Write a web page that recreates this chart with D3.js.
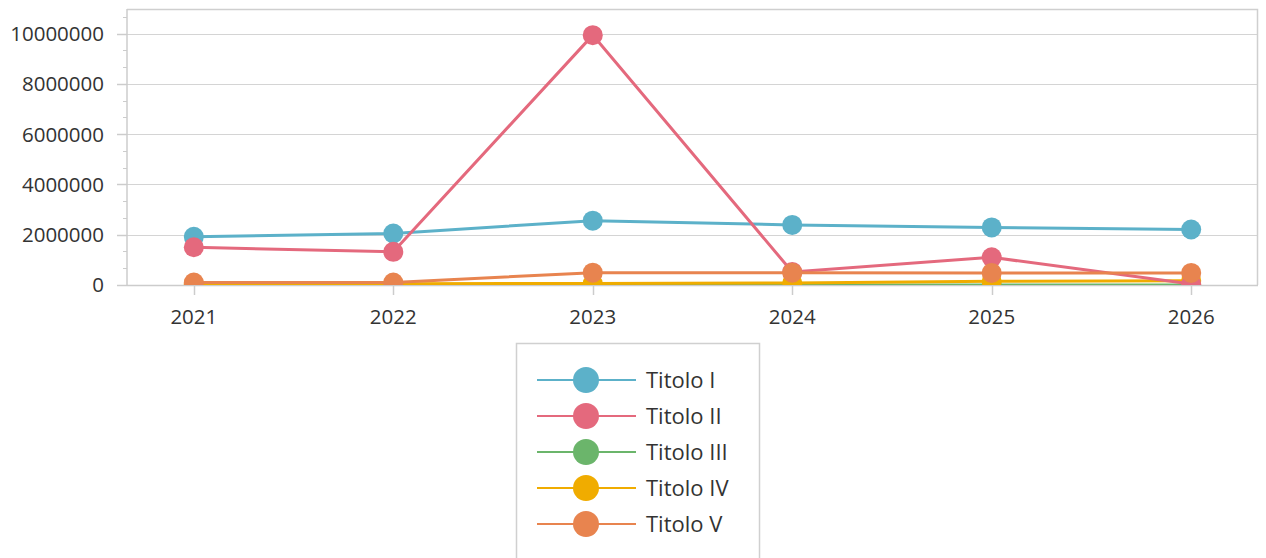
<!DOCTYPE html>
<html>
<head>
<meta charset="utf-8">
<script src="https://cdn.jsdelivr.net/npm/d3@7"></script>
<style>
  body { margin: 0; background: #fff; }
  svg { display: block; font-family: "Open Sans", "Noto Sans", sans-serif; }
  .tick-label { fill: #333; font-size: 20.5px; }
  .legend-label { fill: #333; font-size: 22px; }
</style>
</head>
<body>
<svg id="chart" width="1266" height="558"></svg>
<script>
const years = ["2021", "2022", "2023", "2024", "2025", "2026"];
const seriesNames = ["Titolo I", "Titolo II", "Titolo III", "Titolo IV", "Titolo V"];
const seriesColors = ["#5cb1c9", "#e4697d", "#6bb56b", "#f0ac00", "#e8844f"];
const titoloI = [1920000, 2050000, 2560000, 2390000, 2290000, 2210000];
const titoloII = [1500000, 1320000, 9940000, 520000, 1100000, 40000];
const titoloIII = [0, 0, 0, 0, 0, 0];
const titoloIV = [50000, 50000, 60000, 80000, 150000, 170000];
const titoloV = [100000, 100000, 490000, 490000, 480000, 480000];
const yTicks = [0, 2000000, 4000000, 6000000, 8000000, 10000000];

const seriesValues = [titoloI, titoloII, titoloIII, titoloIV, titoloV];

// plot area bounds
const PLOT_LEFT = 127;
const PLOT_RIGHT = 1258;
const PLOT_TOP = 9;
const PLOT_BOTTOM = 285;

const svg = d3.select("#chart");

const x = d3.scalePoint()
  .domain(years)
  .range([PLOT_LEFT, PLOT_RIGHT])
  .padding(0.335);

const y = d3.scaleLinear()
  .domain([0, 10980000])
  .range([PLOT_BOTTOM, PLOT_TOP]);

// gridlines
svg.append("g")
  .selectAll("line")
  .data(yTicks.filter(d => d > 0))
  .enter()
  .append("line")
  .attr("x1", PLOT_LEFT)
  .attr("x2", PLOT_RIGHT)
  .attr("y1", d => Math.round(y(d)) + 0.5)
  .attr("y2", d => Math.round(y(d)) + 0.5)
  .attr("stroke", "#d4d4d4")
  .attr("stroke-width", 1);

// plot border (top and right)
svg.append("path")
  .attr("d", `M${PLOT_LEFT},${PLOT_TOP + 0.5}H${PLOT_RIGHT - 0.5}V${PLOT_BOTTOM}`)
  .attr("fill", "none")
  .attr("stroke", "#cfcfcf")
  .attr("stroke-width", 1.5);

// y axis: minor ticks, major ticks, line
const minorTicks = d3.range(0, 10980000, 2000000 / 3);
svg.append("g")
  .selectAll("line")
  .data(minorTicks)
  .enter()
  .append("line")
  .attr("x1", PLOT_LEFT - 4)
  .attr("x2", PLOT_LEFT)
  .attr("y1", d => Math.round(y(d)) + 0.5)
  .attr("y2", d => Math.round(y(d)) + 0.5)
  .attr("stroke", "#cccccc");

svg.append("g")
  .selectAll("line")
  .data(yTicks)
  .enter()
  .append("line")
  .attr("x1", PLOT_LEFT - 10)
  .attr("x2", PLOT_LEFT)
  .attr("y1", d => Math.round(y(d)) + 0.5)
  .attr("y2", d => Math.round(y(d)) + 0.5)
  .attr("stroke", "#cccccc")
  .attr("stroke-width", 1.5);

svg.append("line")
  .attr("x1", PLOT_LEFT)
  .attr("x2", PLOT_LEFT)
  .attr("y1", PLOT_TOP)
  .attr("y2", PLOT_BOTTOM)
  .attr("stroke", "#cccccc")
  .attr("stroke-width", 1.5);

svg.append("g")
  .selectAll("text")
  .data(yTicks)
  .enter()
  .append("text")
  .attr("class", "tick-label")
  .attr("x", 104)
  .attr("y", d => y(d))
  .attr("dy", "0.36em")
  .attr("text-anchor", "end")
  .text(d => d);

// x axis
svg.append("line")
  .attr("x1", PLOT_LEFT)
  .attr("x2", PLOT_RIGHT)
  .attr("y1", PLOT_BOTTOM + 0.5)
  .attr("y2", PLOT_BOTTOM + 0.5)
  .attr("stroke", "#cccccc")
  .attr("stroke-width", 1.5);

svg.append("g")
  .selectAll("line")
  .data(years)
  .enter()
  .append("line")
  .attr("x1", d => Math.round(x(d)) + 0.5)
  .attr("x2", d => Math.round(x(d)) + 0.5)
  .attr("y1", PLOT_BOTTOM)
  .attr("y2", PLOT_BOTTOM + 10)
  .attr("stroke", "#cccccc")
  .attr("stroke-width", 1.5);

svg.append("g")
  .selectAll("text")
  .data(years)
  .enter()
  .append("text")
  .attr("class", "tick-label")
  .attr("x", d => x(d))
  .attr("y", 317)
  .attr("dy", "0.36em")
  .attr("text-anchor", "middle")
  .text(d => d);

// series, clipped to the plot area
svg.append("clipPath")
  .attr("id", "plot-clip")
  .append("rect")
  .attr("x", PLOT_LEFT)
  .attr("y", 0)
  .attr("width", PLOT_RIGHT - PLOT_LEFT)
  .attr("height", PLOT_BOTTOM);

const plot = svg.append("g").attr("clip-path", "url(#plot-clip)");

const line = d3.line()
  .x((d, i) => x(years[i]))
  .y(d => y(d));

// draw order so the reference layering shows: III, IV, I, II, V
const drawOrder = [2, 3, 0, 1, 4];
drawOrder.forEach(s => {
  const g = plot.append("g");
  g.append("path")
    .datum(seriesValues[s])
    .attr("d", line)
    .attr("fill", "none")
    .attr("stroke", seriesColors[s])
    .attr("stroke-width", 3);
  g.selectAll("circle")
    .data(seriesValues[s])
    .enter()
    .append("circle")
    .attr("cx", (d, i) => x(years[i]))
    .attr("cy", d => y(d))
    .attr("r", 10)
    .attr("fill", seriesColors[s]);
});

// legend
const legend = svg.append("g");
legend.append("rect")
  .attr("x", 516.5)
  .attr("y", 343.5)
  .attr("width", 243)
  .attr("height", 230)
  .attr("fill", "#fff")
  .attr("stroke", "#d0d0d0")
  .attr("stroke-width", 1.5);

const items = legend.selectAll("g.item")
  .data(seriesNames)
  .enter()
  .append("g")
  .attr("class", "item")
  .attr("transform", (d, i) => `translate(0,${380 + i * 36})`);

items.append("line")
  .attr("x1", 537)
  .attr("x2", 636)
  .attr("y1", 0)
  .attr("y2", 0)
  .attr("stroke", (d, i) => seriesColors[i])
  .attr("stroke-width", 2);

items.append("circle")
  .attr("cx", 586)
  .attr("cy", 0)
  .attr("r", 13)
  .attr("fill", (d, i) => seriesColors[i]);

items.append("text")
  .attr("class", "legend-label")
  .attr("x", 646)
  .attr("y", 0)
  .attr("dy", "0.36em")
  .text(d => d);
</script>
</body>
</html>
